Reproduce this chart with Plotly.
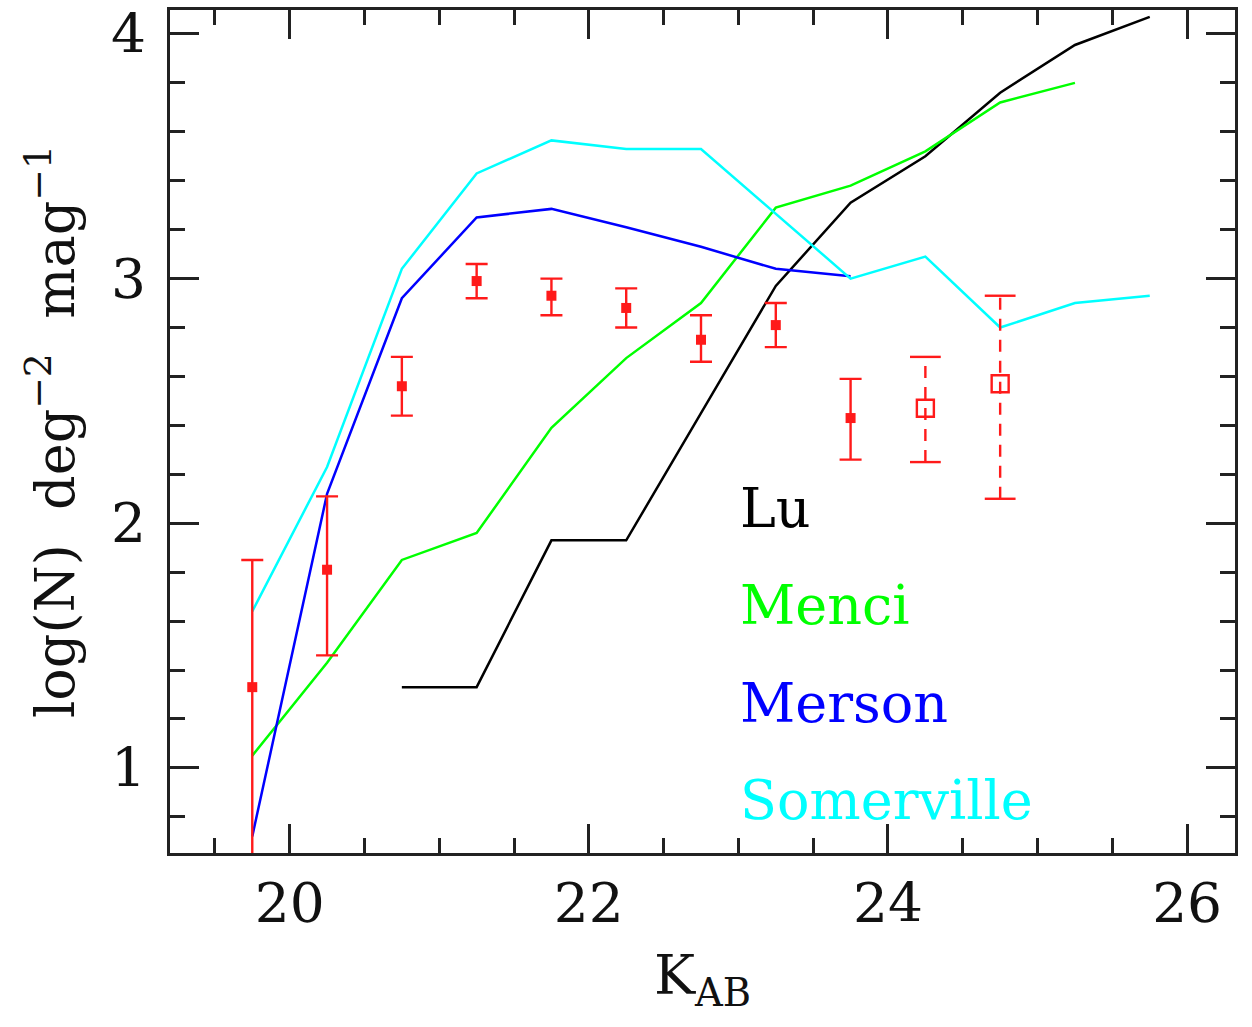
import plotly.graph_objects as go

# K-band number counts: observed bins and model predictions
k_obs = [19.75, 20.25, 20.75, 21.25, 21.75, 22.25, 22.75, 23.25, 23.75]
logn_obs = [1.33, 1.81, 2.56, 2.99, 2.93, 2.88, 2.75, 2.81, 2.43]
err_hi = [1.85, 2.11, 2.68, 3.06, 3.00, 2.96, 2.85, 2.90, 2.59]
err_lo = [0.30, 1.46, 2.44, 2.92, 2.85, 2.80, 2.66, 2.72, 2.26]

k_inc = [24.25, 24.75]
logn_inc = [2.47, 2.57]
inc_hi = [2.68, 2.93]
inc_lo = [2.25, 2.10]

k_lu = [20.75, 21.25, 21.75, 22.25, 22.75, 23.25, 23.75, 24.25, 24.75, 25.25, 25.75]
logn_lu = [1.33, 1.33, 1.93, 1.93, 2.45, 2.97, 3.31, 3.50, 3.76, 3.955, 4.07]

k_menci = [19.75, 20.25, 20.75, 21.25, 21.75, 22.25, 22.75, 23.25, 23.75, 24.25, 24.75, 25.25]
logn_menci = [1.05, 1.43, 1.85, 1.96, 2.39, 2.675, 2.90, 3.29, 3.38, 3.52, 3.72, 3.80]

k_merson = [19.75, 20.25, 20.75, 21.25, 21.75, 22.25, 22.75, 23.25, 23.75]
logn_merson = [0.72, 2.12, 2.92, 3.25, 3.285, 3.21, 3.13, 3.04, 3.01]

k_somer = [19.75, 20.25, 20.75, 21.25, 21.75, 22.25, 22.75, 23.25, 23.75, 24.25, 24.75, 25.25, 25.75]
logn_somer = [1.64, 2.23, 3.04, 3.43, 3.565, 3.53, 3.53, 3.265, 3.00, 3.09, 2.80, 2.90, 2.93]

models = [
    ("Lu", k_lu, logn_lu, "#000000"),
    ("Menci", k_menci, logn_menci, "#00ff00"),
    ("Merson", k_merson, logn_merson, "#0000ff"),
    ("Somerville", k_somer, logn_somer, "#00ffff"),
]
label_y = [2.06, 1.665, 1.265, 0.868]

RED = "#ff1a1a"
FONT = "DejaVu Serif"

fig = go.Figure()

for name, kx, ky, col in models:
    fig.add_trace(go.Scatter(x=kx, y=ky, mode="lines", name=name,
                             line=dict(color=col, width=2.5)))

# complete bins: filled squares with solid error bars
fig.add_trace(go.Scatter(
    x=k_obs, y=logn_obs, mode="markers",
    marker=dict(symbol="square", size=10, color=RED),
    error_y=dict(type="data", symmetric=False,
                 array=[h - v for h, v in zip(err_hi, logn_obs)],
                 arrayminus=[v - l for l, v in zip(err_lo, logn_obs)],
                 color=RED, thickness=2.4, width=11),
))

# incomplete bins: dashed error bars with caps and open squares
bar_x, bar_y = [], []
for kx, lo, hi in zip(k_inc, inc_lo, inc_hi):
    bar_x += [kx, kx, None]
    bar_y += [lo, hi, None]
fig.add_trace(go.Scatter(x=bar_x, y=bar_y, mode="lines",
                         line=dict(color=RED, width=2.4, dash="12px,9px")))
fig.add_trace(go.Scatter(
    x=k_inc + k_inc, y=inc_hi + inc_lo, mode="markers",
    marker=dict(symbol="line-ew", size=22, line=dict(color=RED, width=2.4)),
))
fig.add_trace(go.Scatter(
    x=k_inc, y=logn_inc, mode="markers",
    marker=dict(symbol="square-open", size=17, color=RED, line=dict(width=2.4)),
))

for (name, _, _, col), ly in zip(models, label_y):
    fig.add_annotation(x=23.0, y=ly, xref="x", yref="y", text=name,
                       showarrow=False, xanchor="left", yanchor="middle",
                       font=dict(family=FONT, size=54, color=col))

axis_common = dict(
    showgrid=False, zeroline=False, showline=True, linecolor="#222222",
    linewidth=3, mirror="ticks", ticks="inside", ticklen=29, tickwidth=2.5,
    tickcolor="#222222", tickfont=dict(family=FONT, size=55, color="#111111"),
    automargin=False,
)

fig.update_xaxes(
    range=[19.2, 26.32], tick0=20, dtick=2,
    minor=dict(dtick=0.5, tick0=20, ticks="inside", ticklen=15, tickwidth=2.5,
               tickcolor="#222222"),
    title=dict(text="K<sub>AB</sub>", font=dict(family=FONT, size=55, color="#111111"),
               standoff=22),
    **axis_common,
)
fig.update_yaxes(
    range=[0.652, 4.098], tick0=1, dtick=1, ticklabelstandoff=10,
    minor=dict(dtick=0.2, tick0=1, ticks="inside", ticklen=15, tickwidth=2.5,
               tickcolor="#222222"),
    title=dict(text="log(N)  deg<sup>\u22122</sup>  mag<sup>\u22121</sup>",
               font=dict(family=FONT, size=54, color="#111111"), standoff=20),
    **axis_common,
)

fig.update_layout(
    width=1252, height=1027,
    margin=dict(l=170, r=17, t=10, b=174),
    paper_bgcolor="white", plot_bgcolor="white",
    showlegend=False,
)

fig.write_html("out.html")
